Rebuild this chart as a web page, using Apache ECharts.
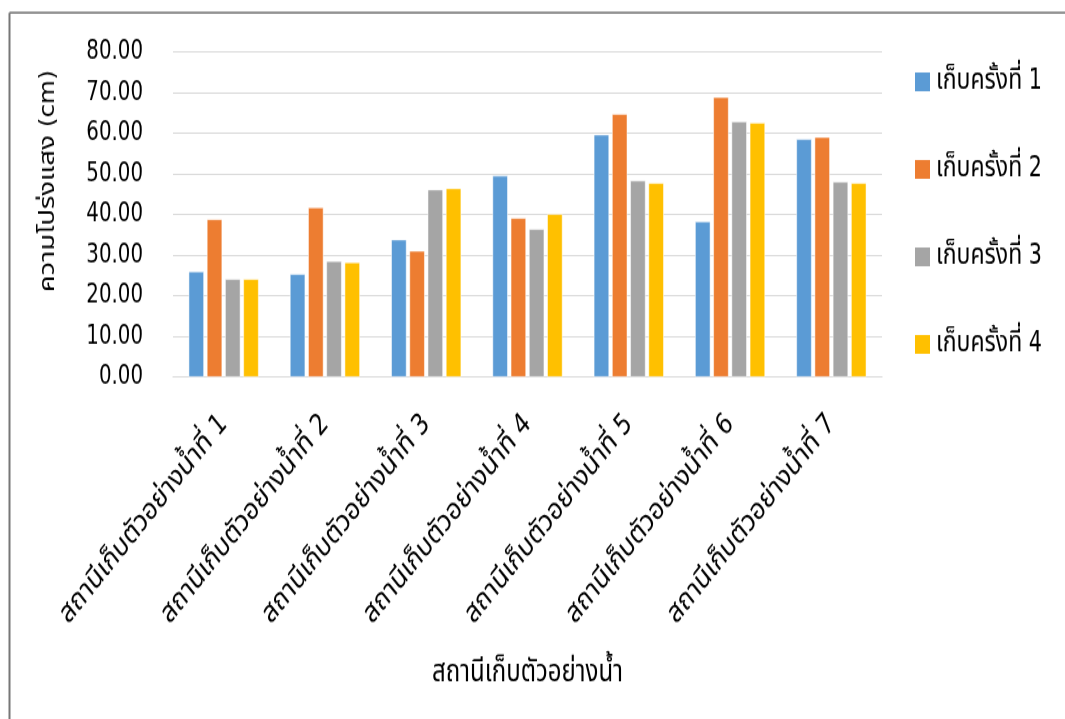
<!DOCTYPE html>
<html>
<head>
<meta charset="utf-8">
<script src="https://cdn.jsdelivr.net/npm/echarts@6/dist/echarts.min.js"></script>
<style>
html,body{margin:0;padding:0;background:#fff;}
#wrap{width:1065px;height:719px;overflow:hidden;position:relative;}
#chart{width:1065px;height:575px;transform:scaleY(1.25);transform-origin:0 0;position:absolute;left:0;top:0;}
</style>
</head>
<body>
<div id="wrap"><div id="chart"></div></div>
<script>
const categories = ['สถานีเก็บตัวอย่างน้ำที่ 1','สถานีเก็บตัวอย่างน้ำที่ 2','สถานีเก็บตัวอย่างน้ำที่ 3','สถานีเก็บตัวอย่างน้ำที่ 4','สถานีเก็บตัวอย่างน้ำที่ 5','สถานีเก็บตัวอย่างน้ำที่ 6','สถานีเก็บตัวอย่างน้ำที่ 7'];
const seriesNames = ['เก็บครั้งที่ 1','เก็บครั้งที่ 2','เก็บครั้งที่ 3','เก็บครั้งที่ 4'];
const round1 = [25.9, 25.3, 33.8, 49.5, 59.6, 38.2, 58.5];
const round2 = [38.8, 41.7, 31.0, 39.1, 64.7, 68.8, 59.0];
const round3 = [24.1, 28.5, 46.1, 36.4, 48.3, 62.8, 48.0];
const round4 = [24.1, 28.2, 46.4, 40.1, 47.7, 62.5, 47.7];
const colors = ['#5B9BD5','#ED7D31','#A5A5A5','#FFC000'];
const yTitle = 'ความโปร่งแสง (cm)';
const xTitle = 'สถานีเก็บตัวอย่างน้ำ';

const FONT = '"DejaVu Sans Condensed", "Noto Sans Thai", "Noto Sans", sans-serif';
const chart = echarts.init(document.getElementById('chart'));
const values = [round1, round2, round3, round4];
chart.setOption({
  animation: false,
  textStyle: {fontFamily: FONT},
  grid: {left: 173, right: 183, top: 41.4, bottom: 273.4},
  legend: {
    orient: 'vertical', left: 908, top: 49, itemGap: 47,
    itemWidth: 17, itemHeight: 17, icon: 'rect',
    textStyle: {fontSize: 23, color: '#000', fontFamily: FONT},
    data: seriesNames
  },
  xAxis: {
    type: 'category', data: categories,
    name: xTitle, nameLocation: 'middle', nameGap: 225,
    nameTextStyle: {fontSize: 24, color: '#000', fontFamily: FONT},
    axisLine: {lineStyle: {color: '#d9d9d9', width: 1.2}},
    axisTick: {show: false},
    axisLabel: {rotate: 45, fontSize: 24, color: '#000', margin: 34, interval: 0, fontFamily: FONT}
  },
  yAxis: {
    type: 'value', min: 0, max: 80, interval: 10,
    axisLabel: {formatter: v => v.toFixed(2), fontSize: 22, color: '#000', margin: 30, fontFamily: FONT},
    splitLine: {lineStyle: {color: '#d9d9d9', width: 1.2}},
    axisLine: {show: false}, axisTick: {show: false}
  },
  graphic: [
    {type: 'line', shape: {x1: 9.5, y1: 10.2, x2: 1065, y2: 10.2}, style: {stroke: '#555', lineWidth: 1.3}},
    {type: 'line', shape: {x1: 9.5, y1: 10.2, x2: 9.5, y2: 580}, style: {stroke: '#777', lineWidth: 2}},
    {type: 'text', x: 48, y: 145, rotation: Math.PI/2,
     style: {text: yTitle, fontSize: 22, fill: '#000', align: 'center', verticalAlign: 'middle', fontFamily: FONT}}
  ],
  series: values.map((d, i) => ({
    name: seriesNames[i], type: 'bar', data: d,
    barGap: '20%', barCategoryGap: '31%',
    itemStyle: {color: colors[i], borderColor: '#fff', borderWidth: 0.5}
  }))
});
</script>
</body>
</html>
